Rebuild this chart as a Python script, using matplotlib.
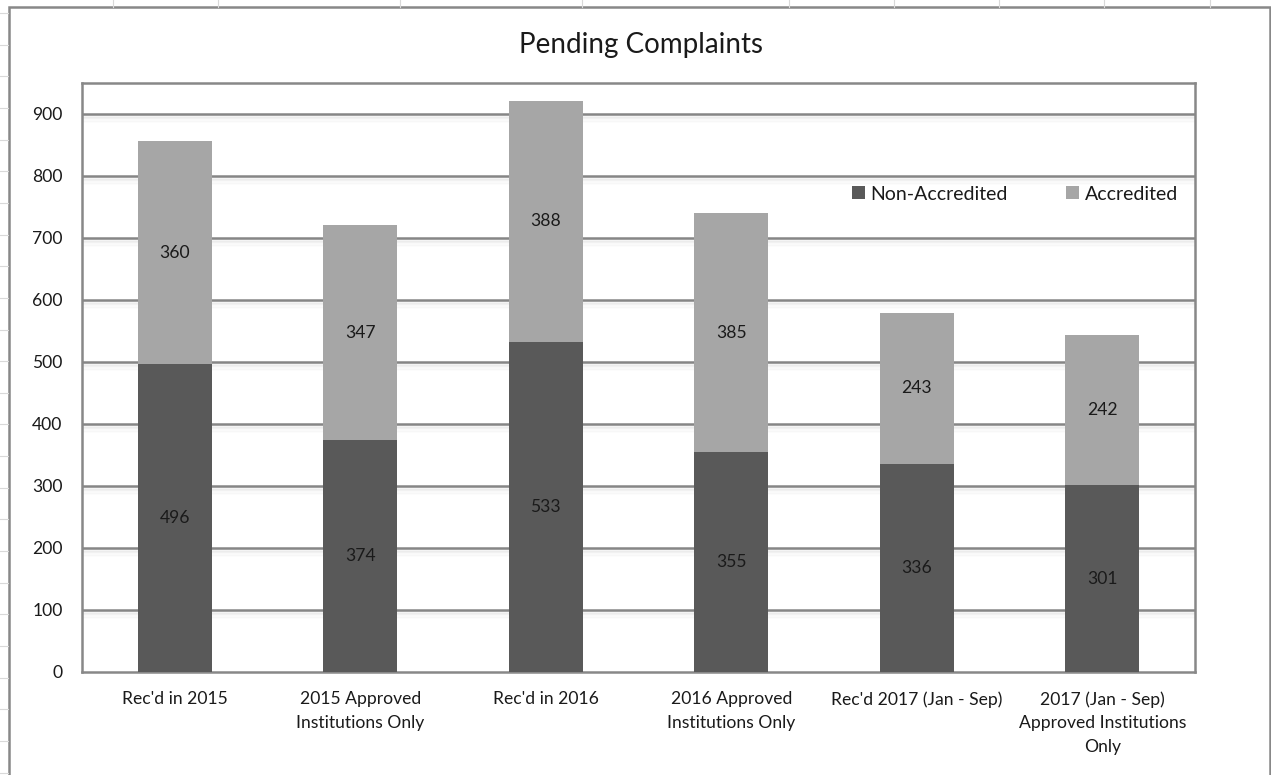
import matplotlib
matplotlib.use("Agg")
import matplotlib.pyplot as plt
from matplotlib.patches import Rectangle
from matplotlib.lines import Line2D
import numpy as np

categories = ["Rec'd in 2015", "2015 Approved\nInstitutions Only", "Rec'd in 2016",
              "2016 Approved\nInstitutions Only", "Rec'd 2017 (Jan - Sep)",
              "2017 (Jan - Sep)\nApproved Institutions\nOnly"]
non_accredited = [496, 374, 533, 355, 336, 301]
accredited = [360, 347, 388, 385, 243, 242]
yticks = [0, 100, 200, 300, 400, 500, 600, 700, 800, 900]

W, H = 1271, 775
plt.rcParams['font.family'] = ['Lato', 'DejaVu Sans']
fig = plt.figure(figsize=(W / 100, H / 100), dpi=100)
FS = 12.6

def fx(px):
    return px / W

def fy(py):
    return 1 - py / H

# spreadsheet background gridlines
for x in [113, 218, 400, 582, 789, 894, 999, 1104, 1210]:
    fig.add_artist(Line2D([fx(x), fx(x)], [fy(0), fy(7)], color='#d9d9d9', lw=0.8))
for k in range(25):
    y = 13 + 31.65 * k
    fig.add_artist(Line2D([fx(0), fx(8)], [fy(y), fy(y)], color='#d9d9d9', lw=0.8))

# chart area border
fig.add_artist(Rectangle((fx(9), fy(790)), fx(1270) - fx(9), fy(7) - fy(790),
                         fill=False, edgecolor='#888888', lw=1.8, transform=fig.transFigure))

ax = fig.add_axes([fx(82), fy(672), fx(1195) - fx(82), fy(83) - fy(672)])
x = np.arange(len(categories))
dark = '#595959'
light = '#a6a6a6'
b1 = ax.bar(x, non_accredited, width=0.4, color=dark, label='Non-Accredited', zorder=3)
b2 = ax.bar(x, accredited, width=0.4, bottom=non_accredited, color=light,
            label='Accredited', zorder=3)

ax.set_xlim(-0.5, len(categories) - 0.5)
ax.set_ylim(0, 950)
ax.set_yticks(yticks)
ax.set_xticks(x)
ax.set_xticklabels(categories, fontsize=FS, color='#1a1a1a', linespacing=1.57)
ax.tick_params(axis='y', labelsize=FS, colors='#1a1a1a', length=0, pad=14)
ax.tick_params(axis='x', length=0, pad=14)

# gridlines with soft shadow
for v in yticks[1:]:
    for i, a in enumerate([0.10, 0.08, 0.06, 0.045, 0.03, 0.02]):
        off = (i + 1) * 1.3 / 0.62
        ax.axhline(v - off, color='#000000', alpha=a * 0.6, lw=1.3, zorder=1)
    ax.axhline(v, color='#868686', lw=1.8, zorder=2)

for s in ax.spines.values():
    s.set_color('#888888')
    s.set_linewidth(1.8)

for i in range(len(categories)):
    ax.text(x[i], non_accredited[i] / 2, str(non_accredited[i]), ha='center', va='center',
            fontsize=FS, color='#1a1a1a', zorder=4)
    ax.text(x[i], non_accredited[i] + accredited[i] / 2, str(accredited[i]), ha='center',
            va='center', fontsize=FS, color='#1a1a1a', zorder=4)

leg = ax.legend(loc='center', bbox_to_anchor=((1015 - 82) / (1195 - 82), (672 - 194) / (672 - 83)),
                ncol=2, frameon=False, fontsize=14, handlelength=0.65, handleheight=0.65,
                handletextpad=0.3, columnspacing=3.0, labelcolor='#1a1a1a')

fig.text(fx(641), fy(45), 'Pending Complaints', ha='center', va='center', fontsize=20,
         color='#1a1a1a')

fig.savefig('out.png', dpi=100)
